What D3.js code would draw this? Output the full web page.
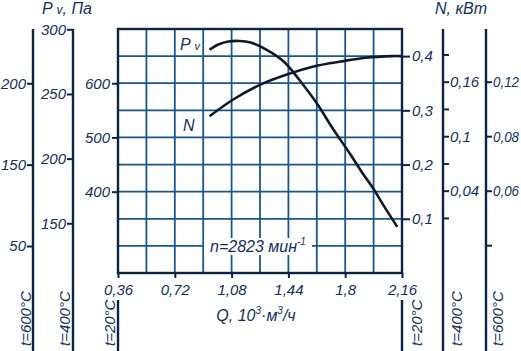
<!DOCTYPE html>
<html>
<head>
<meta charset="utf-8">
<script src="https://cdn.jsdelivr.net/npm/d3@7"></script>
<style>
  body { margin: 0; background: #fff; }
  svg text { font-family: "Liberation Sans", Arial, sans-serif; font-style: italic; fill: #12305a; }
</style>
</head>
<body>
<div id="chart"></div>
<script>
// fan curve: Pv and N vs Q, with extra scales for hot gas

// Q, 10^3 m3/h - grid and labels
const qGrid = [0.36, 0.54, 0.72, 0.90, 1.08, 1.26, 1.44, 1.62, 1.80, 1.98, 2.16];
const qTicks = [0.36, 0.72, 1.08, 1.44, 1.8, 2.16];

// main Pv scale (t=20°C), Pa
const pvGrid = [700, 650, 600, 550, 500, 450, 400, 350, 300, 250];
const pvTicks = [600, 500, 400];

// main N scale (t=20°C), kW
const nTicks = [0.4, 0.3, 0.2, 0.1];

// extra scales
const pv400Ticks = [300, 250, 200, 150];
const pv600Ticks = [200, 150, 100];
const pv600Labels = ["200", "150", "50"];
const n400Ticks = [0.19, 0.16, 0.13, 0.10, 0.07, 0.04, 0.01];
const n400Labels = ["", "0,16", "", "0,1", "", "0,04", ""];
const n600Ticks = [0.12, 0.08, 0.04, 0.00];
const n600Labels = ["0,12", "0,08", "0,06", ""];

// curves
const pvQ = [0.94, 1.00, 1.06, 1.13, 1.20, 1.30, 1.41, 1.51, 1.62, 1.72, 1.83, 1.91, 1.98, 2.04, 2.13];
const pvVal = [662, 672, 677, 678, 675, 662, 640, 606, 563, 517, 470, 434, 405, 376, 335];
const nQ = [0.94, 1.09, 1.26, 1.43, 1.60, 1.77, 1.93, 2.10, 2.16];
const nVal = [0.289, 0.320, 0.347, 0.366, 0.381, 0.390, 0.397, 0.400, 0.400];

const W = 521, H = 351;
const box = {left: 118, right: 402, top: 29, bottom: 273};

const gridCol = "#1b5689", axisCol = "#0c2444", curveCol = "#0e1a2c";

const svg = d3.select("#chart").append("svg")
    .attr("width", W)
    .attr("height", H);

const x = d3.scaleLinear().domain([0.36, 2.16]).range([box.left, box.right]);
const yPv = d3.scaleLinear().domain([250, 700]).range([box.bottom, box.top]);
const yN = d3.scaleLinear().domain([0, 0.45]).range([box.bottom, box.top]);

const yPv400 = d3.scaleLinear().domain([150, 300]).range([223.3, 29.3]);
const yPv600 = d3.scaleLinear().domain([100, 200]).range([246, 83.3]);
const yN400 = d3.scaleLinear().domain([0.04, 0.16]).range([190.7, 81.7]);
const yN600 = d3.scaleLinear().domain([0.04, 0.12]).range([190.7, 81.7]);

// grid
svg.append("g").selectAll("line")
    .data(qGrid)
    .join("line")
    .attr("x1", d => x(d)).attr("x2", d => x(d))
    .attr("y1", box.top).attr("y2", box.bottom)
    .attr("stroke", gridCol).attr("stroke-width", 1.8);

svg.append("g").selectAll("line")
    .data(pvGrid)
    .join("line")
    .attr("x1", box.left).attr("x2", box.right)
    .attr("y1", d => yPv(d)).attr("y2", d => yPv(d))
    .attr("stroke", gridCol).attr("stroke-width", 1.8);

// frame
svg.append("rect")
    .attr("x", box.left).attr("y", box.top)
    .attr("width", box.right - box.left).attr("height", box.bottom - box.top)
    .attr("fill", "none")
    .attr("stroke", axisCol).attr("stroke-width", 2.4);

// white box behind rotation speed
svg.append("rect")
    .attr("x", 204).attr("y", 238)
    .attr("width", 108).attr("height", 17)
    .attr("fill", "#fff");

svg.append("text")
    .attr("x", 210).attr("y", 252)
    .attr("font-size", 16)
    .call(t => {
        t.append("tspan").text("n=2823 мин");
        t.append("tspan").attr("font-size", 10).attr("dy", -7).text("-1");
    });

// axes helper
function styleAxis(g) {
    g.select(".domain").remove();
    g.selectAll(".tick line").attr("stroke", axisCol).attr("stroke-width", 2);
    g.selectAll(".tick text").attr("font-size", 15).attr("fill", "#12305a");
}

// bottom Q axis
svg.append("g")
    .attr("transform", `translate(0,${box.bottom})`)
    .call(d3.axisBottom(x).tickValues(qTicks).tickSize(5).tickPadding(6)
        .tickFormat(d => String(d).replace(".", ",")))
    .call(styleAxis);

// main left Pv axis
svg.append("g")
    .attr("transform", `translate(${box.left},0)`)
    .call(d3.axisLeft(yPv).tickValues(pvTicks).tickSize(6).tickPadding(2))
    .call(styleAxis);

// main right N axis
svg.append("g")
    .attr("transform", `translate(${box.right},0)`)
    .call(d3.axisRight(yN).tickValues(nTicks).tickSize(8).tickPadding(2)
        .tickFormat(d => String(d).replace(".", ",")))
    .call(styleAxis);

// extra vertical axes
const extra = [
    {xp: 73, axis: d3.axisLeft(yPv400).tickValues(pv400Ticks)},
    {xp: 33, axis: d3.axisLeft(yPv600).tickValues(pv600Ticks).tickFormat((d, i) => pv600Labels[i])},
    {xp: 443, axis: d3.axisRight(yN400).tickValues(n400Ticks).tickFormat((d, i) => n400Labels[i])},
    {xp: 486, axis: d3.axisRight(yN600).tickValues(n600Ticks).tickFormat((d, i) => n600Labels[i]), narrow: true}
];

extra.forEach(e => {
    svg.append("line")
        .attr("x1", e.xp).attr("x2", e.xp)
        .attr("y1", box.top).attr("y2", H)
        .attr("stroke", axisCol).attr("stroke-width", 2.4);
    const g = svg.append("g")
        .attr("transform", `translate(${e.xp},0)`)
        .call(e.axis.tickSize(6).tickPadding(1))
        .call(styleAxis);
    // last axis is tight against the edge, squeeze its labels a bit
    if (e.narrow) {
        g.selectAll(".tick text")
            .filter(function() { return this.textContent !== ""; })
            .attr("textLength", 26)
            .attr("lengthAdjust", "spacingAndGlyphs");
    }
});

// lower stubs of the main axes
[box.left, box.right].forEach(xp => {
    svg.append("line")
        .attr("x1", xp).attr("x2", xp)
        .attr("y1", 300).attr("y2", H)
        .attr("stroke", axisCol).attr("stroke-width", 2.4);
});

// temperature labels, rotated
const tLabels = [
    {xp: 31, y0: 346, txt: "t=600°C"},
    {xp: 70, y0: 346, txt: "t=400°C"},
    {xp: 115, y0: 346, txt: "t=20°C"},
    {xp: 422, y0: 346, txt: "t=20°C"},
    {xp: 462, y0: 346, txt: "t=400°C"},
    {xp: 503, y0: 346, txt: "t=600°C"}
];
svg.append("g").selectAll("text")
    .data(tLabels)
    .join("text")
    .attr("transform", d => `translate(${d.xp},${d.y0}) rotate(-90)`)
    .attr("font-size", 15)
    .text(d => d.txt);

// axis titles
svg.append("text")
    .attr("x", 42).attr("y", 14)
    .attr("font-size", 16)
    .call(t => {
        t.append("tspan").text("P ");
        t.append("tspan").attr("font-size", 12).text("v");
        t.append("tspan").text(", Па");
    });

svg.append("text")
    .attr("x", 435).attr("y", 14)
    .attr("font-size", 16)
    .text("N, кВт");

svg.append("text")
    .attr("x", 256).attr("y", 321)
    .attr("text-anchor", "middle")
    .attr("font-size", 16)
    .call(t => {
        t.append("tspan").text("Q, 10");
        t.append("tspan").attr("font-size", 10).attr("dy", -7).text("3");
        t.append("tspan").attr("dy", 7).text("·м");
        t.append("tspan").attr("font-size", 10).attr("dy", -7).text("3");
        t.append("tspan").attr("dy", 7).text("/ч");
    });

// curves
const pvLine = d3.line()
    .x((d, i) => x(pvQ[i]))
    .y(d => yPv(d))
    .curve(d3.curveCatmullRom);

const nLine = d3.line()
    .x((d, i) => x(nQ[i]))
    .y(d => yN(d))
    .curve(d3.curveCatmullRom);

svg.append("path")
    .attr("d", pvLine(pvVal))
    .attr("fill", "none")
    .attr("stroke", curveCol).attr("stroke-width", 2.6);

svg.append("path")
    .attr("d", nLine(nVal))
    .attr("fill", "none")
    .attr("stroke", curveCol).attr("stroke-width", 2.6);

// curve names
svg.append("text")
    .attr("x", 180).attr("y", 50)
    .attr("font-size", 16)
    .call(t => {
        t.append("tspan").text("P ");
        t.append("tspan").attr("font-size", 11).text("v");
    });

svg.append("text")
    .attr("x", 183).attr("y", 131)
    .attr("font-size", 16)
    .text("N");
</script>
</body>
</html>
